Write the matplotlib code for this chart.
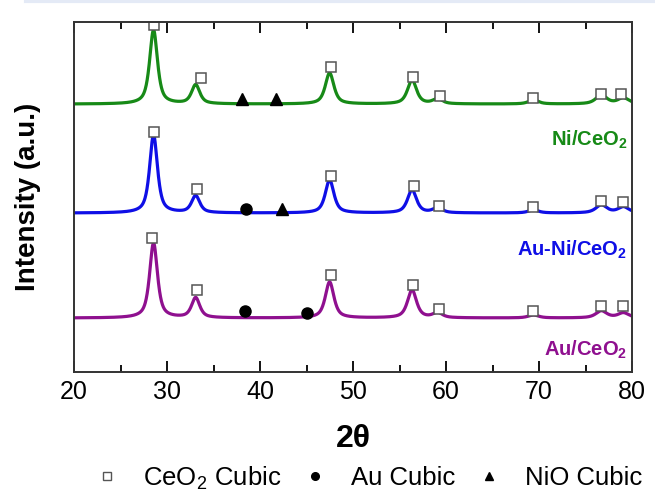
import matplotlib.pyplot as plt
import numpy as np
from matplotlib.lines import Line2D
from matplotlib.ticker import MultipleLocator

plt.rcParams["font.family"] = ["Liberation Sans", "DejaVu Sans"]
plt.rcParams["mathtext.fontset"] = "custom"
plt.rcParams["mathtext.rm"] = "Liberation Sans"
plt.rcParams["mathtext.bf"] = "Liberation Sans:bold"

# CeO2 reflections (2theta, deg)
peak_pos = [28.55, 33.08, 47.48, 56.34, 59.09, 69.4, 76.7, 79.07]
peak_fwhm = [1.0, 1.05, 1.1, 1.15, 1.2, 1.3, 1.4, 1.4]

# peak heights above baseline for each sample (arbitrary units)
ni_heights = [74, 19, 31, 24, 5, 4, 9, 6]
auni_heights = [78, 17, 33, 23, 5, 3, 8, 6]
au_heights = [75, 20, 36, 28, 5, 3, 7, 5]

ni_base = 268
auni_base = 159
au_base = 54

# phase markers (2theta, intensity)
ni_sq_x = [28.6, 33.6, 47.6, 56.4, 59.3, 69.3, 76.7, 78.8]
ni_sq_y = [347, 294, 305, 295, 276, 274, 278, 278]
ni_tri_x = [38.1, 41.7]
ni_tri_y = [273, 273]

auni_sq_x = [28.6, 33.2, 47.6, 56.5, 59.2, 69.3, 76.7, 79.0]
auni_sq_y = [240, 183, 196, 186, 166, 165, 171, 170]
auni_dot_x = [38.5]
auni_dot_y = [163]
auni_tri_x = [42.4]
auni_tri_y = [163]

au_sq_x = [28.4, 33.2, 47.6, 56.4, 59.2, 69.4, 76.7, 79.0]
au_sq_y = [134, 82, 97, 87, 63, 61, 66, 66]
au_dot_x = [38.4, 45.1]
au_dot_y = [61, 59]


def pattern(tt, heights, base):
    y = np.full_like(tt, float(base))
    for p, h, w in zip(peak_pos, heights, peak_fwhm):
        g = w / 2
        y += h * (0.7 * g**2 / ((tt - p) ** 2 + g**2)
                  + 0.3 * np.exp(-np.log(2) * ((tt - p) / g) ** 2))
    return y


tt = np.linspace(20, 80, 3000)

fig = plt.figure(figsize=(6.55, 4.97), dpi=100)
ax = fig.add_axes([0.113, 0.2515, 0.852, 0.704])

green = "#178a17"
blue = "#0f0fe6"
purple = "#8f108f"

ax.plot(tt, pattern(tt, ni_heights, ni_base), color=green, lw=2.3)
ax.plot(tt, pattern(tt, auni_heights, auni_base), color=blue, lw=2.3)
ax.plot(tt, pattern(tt, au_heights, au_base), color=purple, lw=2.3)

sq = dict(marker="s", ms=7, mfc="white", mec="#555555", mew=1.1, ls="none")
dot = dict(marker="o", ms=8, color="black", ls="none")
tri = dict(marker="^", ms=8, color="black", ls="none")

ax.plot(ni_sq_x, ni_sq_y, **sq)
ax.plot(ni_tri_x, ni_tri_y, **tri)
ax.plot(auni_sq_x, auni_sq_y, **sq)
ax.plot(auni_dot_x, auni_dot_y, **dot)
ax.plot(auni_tri_x, auni_tri_y, **tri)
ax.plot(au_sq_x, au_sq_y, **sq)
ax.plot(au_dot_x, au_dot_y, **dot)

ax.text(79.5, 232, "Ni/CeO$_\\mathbf{2}$", color=green, fontsize=14.5,
        fontweight="bold", ha="right", va="center")
ax.text(79.5, 122, "Au-Ni/CeO$_\\mathbf{2}$", color=blue, fontsize=14.5,
        fontweight="bold", ha="right", va="center")
ax.text(79.5, 22, "Au/CeO$_\\mathbf{2}$", color=purple, fontsize=14.5,
        fontweight="bold", ha="right", va="center")

ax.set_xlim(20, 80)
ax.set_ylim(0, 350)
ax.xaxis.set_major_locator(MultipleLocator(10))
ax.xaxis.set_minor_locator(MultipleLocator(5))
ax.tick_params(axis="x", which="both", direction="in", top=True,
               labelsize=18, width=1.3, pad=6)
ax.tick_params(axis="x", which="major", length=8)
ax.tick_params(axis="x", which="minor", length=5)
ax.tick_params(axis="y", left=False, labelleft=False)
for s in ax.spines.values():
    s.set_linewidth(1.4)
    s.set_color("#333333")

ax.set_xlabel("2θ", fontsize=23, fontweight="bold", labelpad=14)
ax.set_ylabel("Intensity (a.u.)", fontsize=20, fontweight="bold", labelpad=24)

handles = [
    Line2D([], [], marker="s", ms=5.5, mfc="white", mec="#555555", mew=1, ls="none"),
    Line2D([], [], marker="o", ms=5.5, color="black", ls="none"),
    Line2D([], [], marker="^", ms=6, color="black", ls="none"),
]
labels = ["CeO$_2$ Cubic", "Au Cubic", "NiO Cubic"]
fig.legend(handles, labels, loc="center", bbox_to_anchor=(0.562, 0.038), ncol=3,
           frameon=False, fontsize=18.5, handletextpad=0.9, columnspacing=0.8,
           handlelength=1.0)

fig.add_artist(Line2D([0.04, 1.0], [0.997, 0.997], color="#e4eaf6", lw=3,
                      transform=fig.transFigure))

fig.savefig("out.png", dpi=100)
